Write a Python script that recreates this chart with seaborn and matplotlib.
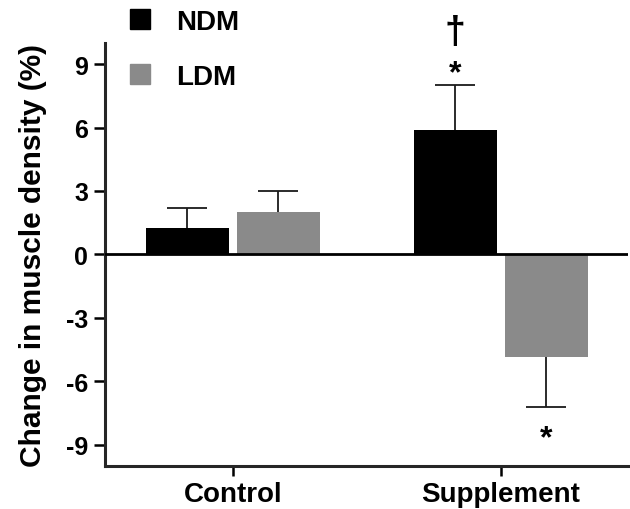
import matplotlib
matplotlib.use("Agg")
import matplotlib.pyplot as plt
import seaborn as sns
import pandas as pd
from matplotlib.lines import Line2D

categories = ["Control", "Supplement"]
groups = ["NDM", "LDM"]
ndm_values = [1.26, 5.9]
ldm_values = [2.02, -4.86]
ndm_err = [0.95, 2.12]
ldm_err = [0.98, 2.38]
yticks = [-9, -6, -3, 0, 3, 6, 9]
colors = {"NDM": "#000000", "LDM": "#8a8a8a"}

df = pd.DataFrame({
    "category": categories * 2,
    "group": ["NDM"] * 2 + ["LDM"] * 2,
    "value": ndm_values + ldm_values,
    "err": ndm_err + ldm_err,
})

sns.set_style("ticks")
plt.rcParams["font.family"] = ["Liberation Sans", "DejaVu Sans"]
plt.rcParams["font.weight"] = "bold"
plt.rcParams["text.color"] = "black"
plt.rcParams["axes.labelcolor"] = "black"
plt.rcParams["xtick.color"] = "black"
plt.rcParams["ytick.color"] = "black"

fig = plt.figure(figsize=(6.3, 5.1), dpi=100)
ax = fig.add_axes([105 / 630, 1 - 466.7 / 510, (628 - 105) / 630, (466.7 - 44) / 510])

sns.barplot(data=df, x="category", y="value", hue="group", order=categories,
            hue_order=groups, palette=colors, width=0.68, gap=0.09,
            errorbar=None, legend=False, ax=ax, linewidth=0, saturation=1)

# error bars (one-sided, away from zero)
for patch in ax.patches:
    xc = patch.get_x() + patch.get_width() / 2
    h = patch.get_height()
    row = df.loc[(df["value"] - h).abs().idxmin()]
    end = h + row["err"] if h >= 0 else h - row["err"]
    ax.plot([xc, xc], [h, end], color="#1a1a1a", linewidth=1.3, zorder=3,
            solid_capstyle="butt")
    ax.plot([xc], [end], marker="_", markersize=29, markeredgewidth=1.3,
            color="#1a1a1a", zorder=3)

ax.axhline(0, color="black", linewidth=2, zorder=4)

ax.set_ylim(-10, 10)
ax.set_xlim(-0.478, 1.476)
ax.set_yticks(yticks)
ax.set_yticklabels([str(t) for t in yticks])
ax.set_xlabel("")
ax.set_ylabel("Change in muscle density (%)", fontsize=21.5, fontweight="bold", labelpad=14)
ax.tick_params(axis="y", labelsize=18, width=1.8, length=8, pad=4)
ax.tick_params(axis="x", labelsize=20, width=1.8, length=7, pad=4)
for lab in ax.get_xticklabels() + ax.get_yticklabels():
    lab.set_fontweight("bold")
sns.despine(ax=ax)
ax.spines["left"].set_linewidth(2.2)
ax.spines["bottom"].set_linewidth(2.2)

# significance markers
sup_ndm = [p for p in ax.patches if p.get_height() > 5][0]
sup_ldm = [p for p in ax.patches if p.get_height() < 0][0]
xn = sup_ndm.get_x() + sup_ndm.get_width() / 2
xl = sup_ldm.get_x() + sup_ldm.get_width() / 2
ax.text(xn, 8.55, "*", ha="center", va="center", fontsize=23, fontweight="bold")
ax.text(xn, 10.5, "†", ha="center", va="center", fontsize=27, fontweight="bold", clip_on=False)
ax.text(xl, -8.7, "*", ha="center", va="center", fontsize=23, fontweight="bold")

handles = [Line2D([], [], marker="s", linestyle="none", markersize=14.4,
                  markerfacecolor=colors[g], markeredgecolor=colors[g]) for g in groups]
fig.legend(handles, groups, loc="upper left", bbox_to_anchor=(129 / 630, 1 - 9.5 / 510),
           frameon=False, prop={"size": 20, "weight": "bold"}, labelspacing=1.06,
           handlelength=0.8, handletextpad=0.9, borderaxespad=0, borderpad=0)

fig.savefig("out.png", dpi=100)
